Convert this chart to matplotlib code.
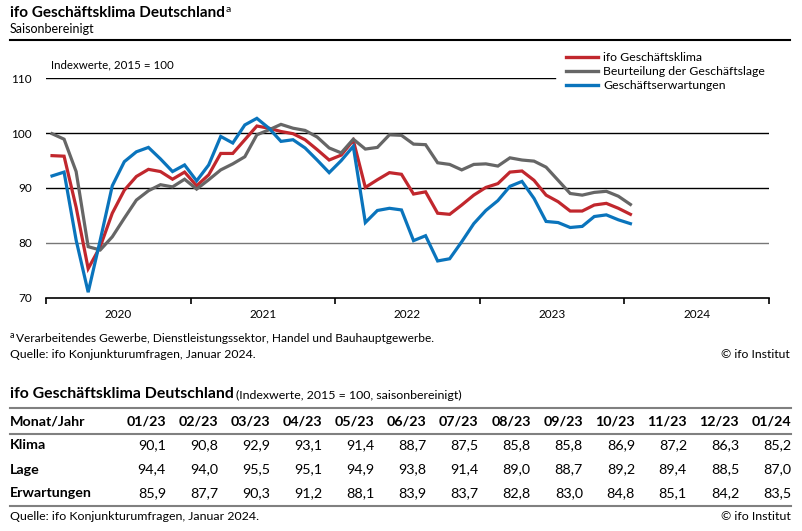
import numpy as np
import matplotlib
matplotlib.use('Agg')
import matplotlib.pyplot as plt
from matplotlib.lines import Line2D

plt.rcParams['font.family'] = ['Lato', 'DejaVu Sans']

# monthly values Jan 2020 .. Jan 2024
klima = [95.9, 95.8, 86.5, 75.3, 79.3, 85.4, 89.6, 92.1, 93.4, 93.0, 91.6, 92.9,
         90.4, 92.4, 96.3, 96.3, 98.8, 101.3, 100.9, 100.3, 99.9, 98.8, 97.0, 95.1,
         96.0, 98.7, 90.1, 91.5, 92.8, 92.5, 88.9, 89.3, 85.4, 85.2, 86.9, 88.7,
         90.1, 90.8, 92.9, 93.1, 91.4, 88.7, 87.5, 85.8, 85.8, 86.9, 87.2, 86.3, 85.2]
lage = [99.9, 98.9, 93.0, 79.3, 78.7, 81.1, 84.5, 87.8, 89.5, 90.6, 90.2, 91.6,
        89.8, 91.5, 93.3, 94.4, 95.7, 99.7, 100.6, 101.6, 100.9, 100.5, 99.3, 97.3,
        96.4, 98.9, 97.1, 97.4, 99.7, 99.6, 98.0, 97.9, 94.6, 94.3, 93.3, 94.3,
        94.4, 94.0, 95.5, 95.1, 94.9, 93.8, 91.4, 89.0, 88.7, 89.2, 89.4, 88.5, 87.0]
erwartungen = [92.2, 92.9, 80.5, 71.0, 80.5, 90.4, 94.8, 96.6, 97.4, 95.3, 93.0, 94.2,
               91.3, 94.2, 99.4, 98.2, 101.5, 102.7, 100.9, 98.5, 98.8, 97.3, 95.1, 92.8,
               95.0, 97.6, 83.7, 85.9, 86.3, 86.0, 80.4, 81.3, 76.7, 77.1, 80.2, 83.5,
               85.9, 87.7, 90.3, 91.2, 88.1, 83.9, 83.7, 82.8, 83.0, 84.8, 85.1, 84.2, 83.5]

years = ['2020', '2021', '2022', '2023', '2024']
series_names = ['ifo Geschäftsklima', 'Beurteilung der Geschäftslage', 'Geschäftserwartungen']
colors = ['#C1272D', '#666666', '#0A74BC']

table_months = ['01/23', '02/23', '03/23', '04/23', '05/23', '06/23', '07/23',
                '08/23', '09/23', '10/23', '11/23', '12/23', '01/24']
table_rows = ['Klima', 'Lage', 'Erwartungen']

W, H = 803, 531
fig = plt.figure(figsize=(W / 100, H / 100), dpi=100)


def fx(px):
    return px / W


def fy(py):
    return 1 - py / H


# header
t = fig.text(fx(10), fy(13), 'ifo Geschäftsklima Deutschland', fontsize=11, fontweight='bold',
             va='center', ha='left')
fig.canvas.draw()
bb = t.get_window_extent()
fig.text(bb.x1 / W + 0.001, fy(9), 'a', fontsize=7.5, va='center', ha='left')
fig.text(fx(10), fy(29), 'Saisonbereinigt', fontsize=9, va='center', ha='left')
fig.add_artist(Line2D([fx(10), fx(790)], [fy(39.5), fy(39.5)], color='black', lw=1.5))

# chart
ax = fig.add_axes([fx(46), fy(297.7), fx(769) - fx(46), fy(78.3) - fy(297.7)])
x = np.arange(len(klima))
for vals, c in zip([klima, lage, erwartungen], colors):
    ax.plot(x, vals, color=c, lw=2.3, solid_joinstyle='miter')

ax.set_xlim(-0.5, 59.5)
ax.set_ylim(70, 110)
for v, c in [(100, 'black'), (90, 'black'), (80, '#777777')]:
    ax.axhline(v, color=c, lw=1.0, zorder=0)
ax.axhline(110, xmax=(555 - 46) / (769 - 46), color='black', lw=1.0, zorder=0)

for s in ['top', 'right', 'left']:
    ax.spines[s].set_visible(False)
ax.spines['bottom'].set_linewidth(1.2)
ax.set_yticks([70, 80, 90, 100, 110])
ax.tick_params(axis='y', length=0, pad=10, labelsize=8.5)
ax.set_xticks(np.arange(-0.5, 60, 12))
ax.set_xticklabels([])
ax.tick_params(axis='x', which='major', length=4, width=1.2, direction='out')
ax.set_xticks(np.arange(5.5, 60, 12), minor=True)
ax.set_xticklabels(years, minor=True)
ax.tick_params(axis='x', which='minor', length=0, pad=8, labelsize=8.5)

fig.text(fx(51), fy(65), 'Indexwerte, 2015 = 100', fontsize=8.3, va='center', ha='left')

handles = [Line2D([], [], color=c, lw=2.4) for c in colors]
fig.legend(handles, series_names, loc='upper left', bbox_to_anchor=(fx(566), fy(52)),
           frameon=False, fontsize=8.8, handlelength=2.6, handletextpad=0.45,
           labelspacing=0.25, borderpad=0, borderaxespad=0)

# footnotes
fig.text(fx(10), fy(336), 'a', fontsize=6.5, va='center', ha='left')
fig.text(fx(16), fy(338), 'Verarbeitendes Gewerbe, Dienstleistungssektor, Handel und Bauhauptgewerbe.',
         fontsize=8.6, va='center', ha='left')
fig.text(fx(10), fy(354), 'Quelle: ifo Konjunkturumfragen, Januar 2024.', fontsize=8.8,
         va='center', ha='left')
fig.text(fx(790), fy(354), '© ifo Institut', fontsize=8.8, va='center', ha='right')

# table
t2 = fig.text(fx(10), fy(394), 'ifo Geschäftsklima Deutschland', fontsize=11.4, fontweight='bold',
              va='center', ha='left')
fig.canvas.draw()
bb2 = t2.get_window_extent()
fig.text(bb2.x1 / W + 0.003, fy(395), '(Indexwerte, 2015 = 100, saisonbereinigt)', fontsize=8.9,
         va='center', ha='left')
for ly in [408, 434, 506]:
    fig.add_artist(Line2D([fx(10), fx(791)], [fy(ly), fy(ly)], color='#808080', lw=1.5))

col_right = [166 + 52.1 * i for i in range(len(table_months))]
row_y = [445, 469.5, 493]
fig.text(fx(10), fy(421), 'Monat/Jahr', fontsize=10.3, fontweight='bold', va='center', ha='left')
for xr, m in zip(col_right, table_months):
    fig.text(fx(xr), fy(421), m, fontsize=10.3, fontweight='bold', va='center', ha='right')
for name, yy in zip(table_rows, row_y):
    fig.text(fx(10), fy(yy), name, fontsize=10.3, fontweight='bold', va='center', ha='left')
for yy, vals in zip(row_y, [klima, lage, erwartungen]):
    for xr, v in zip(col_right, vals[-13:]):
        fig.text(fx(xr), fy(yy), f'{v:.1f}'.replace('.', ','), fontsize=10.3, va='center', ha='right')

fig.text(fx(10), fy(517), 'Quelle: ifo Konjunkturumfragen, Januar 2024.', fontsize=8.9,
         va='center', ha='left')
fig.text(fx(791), fy(517), '© ifo Institut', fontsize=8.9, va='center', ha='right')

fig.savefig('out.png', dpi=100)
